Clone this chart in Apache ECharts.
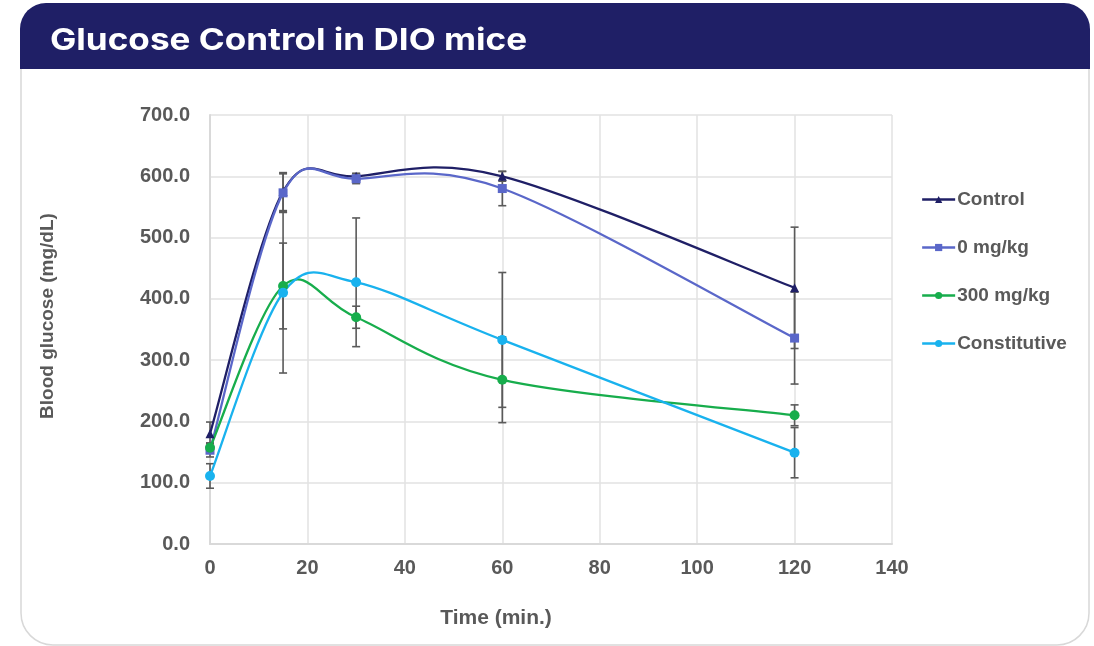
<!DOCTYPE html>
<html>
<head>
<meta charset="utf-8">
<script src="https://cdn.jsdelivr.net/npm/echarts@6/dist/echarts.min.js"></script>
<style>
  html, body { margin: 0; padding: 0; background: #ffffff; }
  #chart { width: 1094px; height: 646px; }
</style>
</head>
<body>
<div id="chart"></div>
<script>
// Sampling times (min) after glucose challenge
const times = [0, 15, 30, 60, 120];

// Mean blood glucose (mg/dL) per group
const controlMean = [180, 575, 600, 600, 418];
const zeroMean = [153, 573, 596, 580, 336];
const dose300Mean = [157, 421, 370, 268, 210];
const constitutiveMean = [111, 410, 427, 333, 149];

// Error (± mg/dL) per group
const controlErr = [19, 31, 5, 8, 99];
const zeroErr = [11, 31, 8, 28, 75];
const dose300Err = [8, 70, 18, 70, 17];
const constitutiveErr = [20, 131, 105, 110, 41];

const seriesNames = ['Control', '0 mg/kg', '300 mg/kg', 'Constitutive'];
const seriesColors = ['#1f1f66', '#5a67c9', '#17ad4c', '#19b2ee'];
const seriesSymbols = ['triangle', 'rect', 'circle', 'circle'];
const seriesSymbolSizes = [9, 9, 10, 10];
const means = [controlMean, zeroMean, dose300Mean, constitutiveMean];
const errs = [controlErr, zeroErr, dose300Err, constitutiveErr];

const TEXT = '#595959';
const FONT = '"Liberation Sans", Arial, sans-serif';
const LINE_W = 2.3;

const chart = echarts.init(document.getElementById('chart'), null, { renderer: 'canvas' });

// Markers (the connecting curve is drawn by the smoothed custom series below)
const markerSeries = seriesNames.map((name, i) => ({
  name: name,
  type: 'line',
  data: times.map((t, k) => [t, means[i][k]]),
  symbol: seriesSymbols[i],
  symbolSize: seriesSymbolSizes[i],
  showAllSymbol: true,
  lineStyle: { width: 0, opacity: 0 },
  itemStyle: { color: seriesColors[i] },
  z: 6
}));

// Smoothed connecting curves: cardinal-spline segments between neighbouring points
const curveSeries = seriesNames.map((name, i) => ({
  type: 'custom',
  name: name + ' curve',
  data: times.map((t, k) => [t, means[i][k]]),
  z: 5,
  silent: true,
  renderItem: function (params, api) {
    const k = params.dataIndex;
    const n = times.length;
    if (k >= n - 1) return null;
    const pt = j => api.coord([times[Math.max(0, Math.min(n - 1, j))], means[i][Math.max(0, Math.min(n - 1, j))]]);
    const p0 = pt(k - 1), p1 = pt(k), p2 = pt(k + 1), p3 = pt(k + 2);
    const f = 1 / 6;
    return {
      type: 'bezierCurve',
      shape: {
        x1: p1[0], y1: p1[1],
        cpx1: p1[0] + (p2[0] - p0[0]) * f, cpy1: p1[1] + (p2[1] - p0[1]) * f,
        cpx2: p2[0] - (p3[0] - p1[0]) * f, cpy2: p2[1] - (p3[1] - p1[1]) * f,
        x2: p2[0], y2: p2[1]
      },
      style: { stroke: seriesColors[i], lineWidth: LINE_W, fill: null }
    };
  }
}));

// Error bars drawn beneath the curves
const errorSeries = seriesNames.map((name, i) => ({
  type: 'custom',
  name: name + ' error',
  data: times.map((t, k) => [t, means[i][k] - errs[i][k], means[i][k] + errs[i][k]]),
  z: 3,
  silent: true,
  renderItem: function (params, api) {
    const x = api.value(0);
    const lo = api.coord([x, api.value(1)]);
    const hi = api.coord([x, api.value(2)]);
    const cap = 4;
    const style = { stroke: '#5a5a5a', lineWidth: 1.6 };
    return {
      type: 'group',
      children: [
        { type: 'line', shape: { x1: lo[0], y1: lo[1], x2: hi[0], y2: hi[1] }, style: style },
        { type: 'line', shape: { x1: lo[0] - cap, y1: lo[1], x2: lo[0] + cap, y2: lo[1] }, style: style },
        { type: 'line', shape: { x1: hi[0] - cap, y1: hi[1], x2: hi[0] + cap, y2: hi[1] }, style: style }
      ]
    };
  }
}));

const option = {
  backgroundColor: '#ffffff',
  animation: false,
  graphic: [
    {
      type: 'rect',
      z: -10,
      shape: { x: 21, y: 68, width: 1068, height: 577, r: [0, 0, 32, 32] },
      style: { fill: '#ffffff', stroke: '#d8d8d8', lineWidth: 1.5 }
    },
    {
      type: 'rect',
      z: -9,
      shape: { x: 20, y: 3, width: 1070, height: 66, r: [26, 26, 0, 0] },
      style: { fill: '#1f1f66' }
    },
    {
      type: 'text',
      z: 10,
      x: 50,
      y: 26,
      scaleX: 1.17,
      style: {
        text: 'Glucose Control in DIO mice',
        fill: '#ffffff',
        font: 'bold 30px Inter, "Noto Sans", sans-serif',
        verticalAlign: 'top'
      }
    }
  ],
  grid: { left: 210, right: 202, top: 115, bottom: 102 },
  legend: {
    orient: 'vertical',
    left: 916,
    top: 185,
    itemWidth: 33,
    itemHeight: 9,
    itemGap: 29,
    data: seriesNames.map((name, i) => ({
      name: name,
      lineStyle: { width: LINE_W, opacity: 1, color: seriesColors[i] }
    })),
    textStyle: { color: TEXT, fontFamily: FONT, fontWeight: 'bold', fontSize: 19, padding: [0, 0, 0, -3] }
  },
  xAxis: {
    type: 'value',
    min: 0,
    max: 140,
    interval: 20,
    name: 'Time (min.)',
    nameLocation: 'middle',
    nameGap: 64,
    nameTextStyle: { color: TEXT, fontFamily: FONT, fontWeight: 'bold', fontSize: 21, padding: [0, 110, 0, 0] },
    axisLine: { show: true, lineStyle: { color: '#d9d9d9', width: 2 } },
    axisTick: { show: false },
    axisLabel: { color: TEXT, fontFamily: FONT, fontWeight: 'bold', fontSize: 20, margin: 14 },
    splitLine: { show: true, lineStyle: { color: '#e2e2e2', width: 1.5 } }
  },
  yAxis: {
    type: 'value',
    min: 0,
    max: 700,
    interval: 100,
    name: 'Blood glucose (mg/dL)',
    nameLocation: 'middle',
    nameGap: 153,
    nameTextStyle: { color: TEXT, fontFamily: FONT, fontWeight: 'bold', fontSize: 19, padding: [0, 0, 0, 27] },
    axisLine: { show: true, lineStyle: { color: '#d9d9d9', width: 2 } },
    axisTick: { show: false },
    axisLabel: {
      color: TEXT, fontFamily: FONT, fontWeight: 'bold', fontSize: 20, margin: 20,
      formatter: v => v.toFixed(1)
    },
    splitLine: { show: true, lineStyle: { color: '#e2e2e2', width: 1.5 } }
  },
  series: errorSeries.concat(curveSeries, markerSeries)
};

chart.setOption(option);
</script>
</body>
</html>
